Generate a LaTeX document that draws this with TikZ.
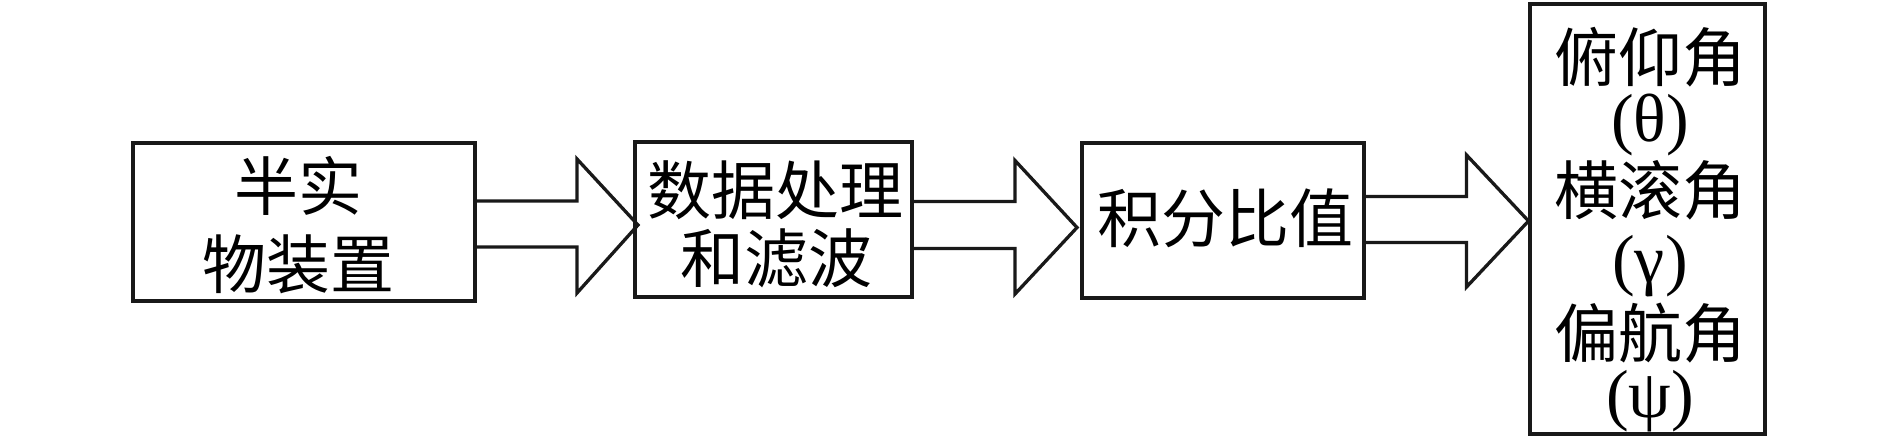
\documentclass[tikz,border=0pt]{standalone}
\usepackage{fontspec}
\setmainfont{Liberation Serif}
\newfontfamily\cjkf{Noto Sans CJK SC}
\begin{document}
\begin{tikzpicture}[x=0.5pt,y=-0.5pt,
  box/.style={draw=black!90, line width=1.65pt, inner sep=0pt, fill=none},
  cjk/.style={inner sep=0pt, anchor=base, font=\cjkf\fontsize{32pt}{32pt}\selectfont},
  grk/.style={inner sep=0pt, anchor=base, font=\fontsize{34pt}{34pt}\selectfont},
  bigarrow/.style={draw=black!90, line width=1.65pt, line join=miter}]
\useasboundingbox (0,0) rectangle (1890,441);
% boxes
\node[box, minimum width=171pt, minimum height=79pt] (b1) at (304,222) {};
\node[box, minimum width=138.5pt, minimum height=77.5pt] (b2) at (773.5,219.5) {};
\node[box, minimum width=141pt, minimum height=77.5pt] (b3) at (1223,220.5) {};
\node[box, minimum width=117.5pt, minimum height=215pt] (b4) at (1647.5,219) {};
% texts
\node[cjk] (t1a) at (298,210) {半实};
\node[cjk] (t1b) at (298,288) {物装置};
\node[cjk] (t2a) at (775,214) {数据处理};
\node[cjk] (t2b) at (776,282) {和滤波};
\node[cjk] (t3) at (1225,242) {积分比值};
\node[cjk] (t4a) at (1650,81) {俯仰角};
\node[grk] (t4b) at (1650,141) {(θ)};
\node[cjk] (t4c) at (1650,214) {横滚角};
\node[grk] (t4d) at (1650,282) {(γ)};
\node[cjk] (t4e) at (1650,357) {偏航角};
\node[grk] (t4f) at (1650,417) {(ψ)};
% arrow tips
\coordinate (p1) at (638,225);
\coordinate (p2) at (1077,227.5);
\coordinate (p3) at (1528.5,221);
% hollow arrows
\draw[bigarrow] (b1.east |- 0,201) -- (577,201) -- (577,159) -- (p1) -- (577,293) -- (577,247) -- (b1.east |- 0,247);
\draw[bigarrow] (b2.east |- 0,201.5) -- (1015,201.5) -- (1015,160.5) -- (p2) -- (1015,294) -- (1015,248.5) -- (b2.east |- 0,248.5);
\draw[bigarrow] (b3.east |- 0,196.5) -- (1466.5,196.5) -- (1466.5,155) -- (p3) -- (1466.5,287) -- (1466.5,242.5) -- (b3.east |- 0,242.5);
\end{tikzpicture}
\end{document}
